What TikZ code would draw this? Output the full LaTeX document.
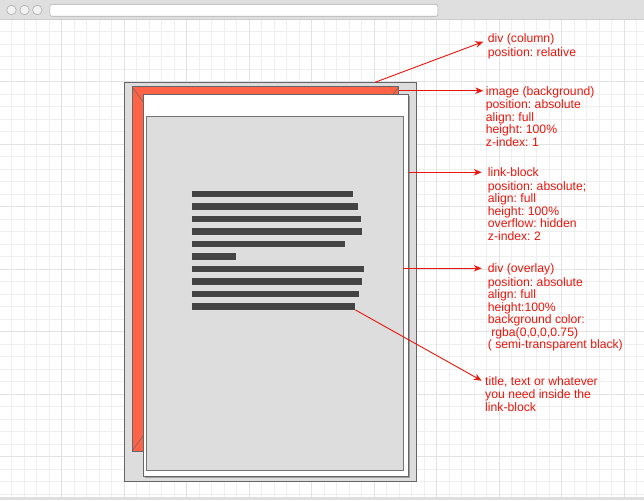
\documentclass[tikz,border=0pt]{standalone}
\usepackage{fontspec}
\setmainfont{Liberation Sans}
\usetikzlibrary{arrows.meta}
\definecolor{lblred}{RGB}{232,22,12}
\definecolor{boxgray}{HTML}{DDDDDD}
\definecolor{edgegray}{HTML}{666666}
\definecolor{imgorange}{HTML}{FF6347}
\definecolor{barfill}{HTML}{444444}
\definecolor{gridminor}{HTML}{EFEFEF}
\definecolor{gridmajor}{HTML}{E2E2E2}
\definecolor{toolbar}{HTML}{DFDFDF}
\definecolor{toolline}{HTML}{CCCCCC}
\frenchspacing
\begin{document}
\begin{tikzpicture}[x=1pt,y=-1pt,
  box/.style={draw=edgegray, line width=0.8pt, anchor=north west, inner sep=0pt, outer sep=0pt},
  bar/.style={fill=barfill, draw=white!88!black, line width=0.5pt, anchor=north west, inner sep=0pt, outer sep=0pt, minimum height=7.3pt},
  lbl/.style={text=lblred, font=\fontsize{12.2}{12.5}\selectfont, align=left, anchor=north west, inner sep=0pt},
  conn/.style={draw=lblred, line width=0.9pt, -{Stealth[length=8pt,width=6.5pt]}},
  dot/.style={circle, draw=toolline!85!black, fill=white!95!black, line width=0.6pt, minimum size=9.5pt, inner sep=0pt}
]
\useasboundingbox (0,0) rectangle (644,500);
\fill[white] (0,0) rectangle (644,500);
% grid
\foreach \k in {1,...,51} {
  \pgfmathsetmacro\xx{-0.8+12.5*\k}
  \draw[gridminor, line width=0.8pt] (\xx,19) -- (\xx,497);
}
\foreach \j in {2,...,39} {
  \pgfmathsetmacro\yy{6.7+12.5*\j}
  \draw[gridminor, line width=0.8pt] (0,\yy) -- (644,\yy);
}
\foreach \k in {5,10,...,50} {
  \pgfmathsetmacro\xx{-0.8+12.5*\k}
  \draw[gridmajor, line width=0.8pt] (\xx,19) -- (\xx,497);
}
\foreach \j in {6,11,...,36} {
  \pgfmathsetmacro\yy{6.7+12.5*\j}
  \draw[gridmajor, line width=0.8pt] (0,\yy) -- (644,\yy);
}
% browser chrome
\fill[toolbar] (0,0) rectangle (644,19);
\draw[toolline, line width=0.8pt] (0,19) -- (644,19);
\node[dot] (dot1) at (11.5,10) {};
\node[dot] (dot2) at (24.5,10) {};
\node[dot] (dot3) at (37.3,10) {};
\node[draw=toolline!85!black, fill=white, rounded corners=2pt, line width=0.6pt, anchor=north west, inner sep=0pt, minimum width=388pt, minimum height=12pt] (addr) at (49.5,4) {};
\fill[toolbar] (0,497) rectangle (644,500);
% column
\node[box, fill=boxgray, minimum width=291.7pt, minimum height=398.7pt] (column) at (124.3,82.3) {};
% image background
\node[box, fill=imgorange, minimum width=266.7pt, minimum height=364.3pt] (image) at (132,86.7) {};
\draw[edgegray, line width=0.5pt] (image.north west) -- (image.south east) (image.north east) -- (image.south west);
% link-block with shadow
\fill[gray!75] (144.6,95.8) rectangle (410.1,477.8);
\node[box, fill=white, minimum width=265.4pt, minimum height=382pt] (link) at (143.3,94.3) {};
% overlay
\node[box, draw=white, line width=2pt, minimum width=257.3pt, minimum height=353.6pt] (halo) at (146,116.7) {};
\node[box, fill=boxgray, draw=edgegray!90!white, minimum width=257.3pt, minimum height=353.6pt] (overlay) at (146,116.7) {};
% text bars
\node[bar, minimum width=161.6pt] (b1) at (191.7,190) {};
\node[bar, minimum width=166.3pt] (b2) at (191.7,202.5) {};
\node[bar, minimum width=169.3pt] (b3) at (191.7,215) {};
\node[bar, minimum width=170.3pt] (b4) at (191.7,227.6) {};
\node[bar, minimum width=153.6pt] (b5) at (191.7,240.1) {};
\node[bar, minimum width=45pt] (b6) at (191.7,252.6) {};
\node[bar, minimum width=172.3pt] (b7) at (191.7,265.1) {};
\node[bar, minimum width=170.3pt] (b8) at (191.7,277.6) {};
\node[bar, minimum width=167.3pt] (b9) at (191.7,290.1) {};
\node[bar, minimum width=163.6pt] (b10) at (191.7,302.6) {};
% labels
\node[lbl] (t1) at (487.7,33.5) {\strut div (column)\\position: relative};
\node[lbl] (t2) at (485.7,86.3) {\strut image (background)\\position: absolute\\align: full\\height: 100\%\\z-index: 1};
\node[lbl] (t3) at (487.7,167.5) {\strut link-block\\position: absolute;\\align: full\\height: 100\%\\overflow: hidden\\z-index: 2};
\node[lbl] (t4) at (487.7,263.5) {\strut div (overlay)\\position: absolute\\align: full\\height:100\%\\background color:\\\hspace*{3.4pt}rgba(0,0,0,0.75)\\( semi-transparent black)};
\node[lbl] (t5) at (485,376.3) {\strut title, text or whatever\\you need inside the\\link-block};
% connector end points
\coordinate (s1) at (375,82.3);
\coordinate (e1) at (483.3,41.7);
\coordinate (s2) at (398.7,90.7);
\coordinate (e2) at (483.3,90.7);
\coordinate (s3) at (408.7,172.3);
\coordinate (e3) at (481.7,172.3);
\coordinate (s4) at (403.3,268.3);
\coordinate (e4) at (481.7,268.3);
\coordinate (e5) at (481.7,380.7);
\draw[conn] (s1) -- (e1);
\draw[conn] (s2) -- (e2);
\draw[conn] (s3) -- (e3);
\draw[conn] (s4) -- (e4);
\draw[conn] (b10.south east) -- (e5);
\end{tikzpicture}
\end{document}
